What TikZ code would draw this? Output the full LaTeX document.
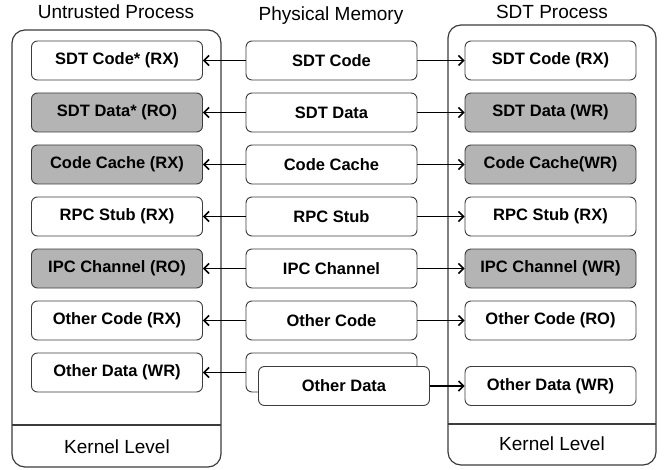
\documentclass[tikz,border=0pt]{standalone}
\usepackage{fontspec}
\setmainfont{Liberation Sans}
\usetikzlibrary{arrows.meta}
\definecolor{boxgray}{RGB}{180,180,180}
\definecolor{edgegray}{RGB}{60,60,60}
\begin{document}
\begin{tikzpicture}[x=1pt,y=-1pt,
  outerbox/.style={draw=edgegray,line width=1.2pt,rounded corners=13pt},
  membox/.style={draw=edgegray,line width=0.9pt,rounded corners=6pt,fill=white,
    minimum width=171pt,minimum height=39pt,inner sep=0pt,
    font=\fontsize{16.5}{18}\selectfont\bfseries},
  graybox/.style={membox,fill=boxgray},
  title/.style={font=\fontsize{19}{22}\selectfont},
  link/.style={line width=1.8pt,-{Straight Barb[length=5pt,width=10pt,line width=1.5pt]}}]
\useasboundingbox (0,0) rectangle (668,470);
% outer boxes
\draw[outerbox] (12,30) rectangle (221,467);
\draw[edgegray,line width=1.2pt] (12,425) -- (221,425);
\draw[outerbox] (448,25) rectangle (656,465);
\draw[edgegray,line width=1.2pt] (448,424) -- (656,424);
\node[title] (kl) at (117,447) {Kernel Level};
\node[title] (kr) at (552,444) {Kernel Level};
% titles
\node[title] (tu) at (116,12) {Untrusted Process};
\node[title] (tp) at (331,16) {Physical Memory};
\node[title] (ts) at (552,12) {SDT Process};
% left column
\node[membox]  (l1) at (117,60.5)  {SDT Code* (RX)};
\node[graybox] (l2) at (117,112.5) {SDT Data* (RO)};
\node[graybox] (l3) at (117,164.5) {Code Cache (RX)};
\node[membox]  (l4) at (117,216.5) {RPC Stub (RX)};
\node[graybox] (l5) at (117,268.5) {IPC Channel (RO)};
\node[membox]  (l6) at (117,320.5) {Other Code (RX)};
\node[membox]  (l7) at (117,372.5) {Other Data (WR)};
% middle column
\node[membox] (m1) at (331.5,60.5)  {SDT Code};
\node[membox] (m2) at (331.5,112.5) {SDT Data};
\node[membox] (m3) at (331.5,164.5) {Code Cache};
\node[membox] (m4) at (331.5,216.5) {RPC Stub};
\node[membox] (m5) at (331.5,268.5) {IPC Channel};
\node[membox] (m6) at (331.5,320.5) {Other Code};
\node[membox] (m7) at (331.5,372.5) {};
\node[membox] (m8) at (344,386) {Other Data};
% right column
\node[membox]  (r1) at (550.5,60.5)  {SDT Code (RX)};
\node[graybox] (r2) at (550.5,112.5) {SDT Data (WR)};
\node[graybox] (r3) at (550.5,164.5) {Code Cache(WR)};
\node[membox]  (r4) at (550.5,216.5) {RPC Stub (RX)};
\node[graybox] (r5) at (550.5,268.5) {IPC Channel (WR)};
\node[membox]  (r6) at (550.5,320.5) {Other Code (RO)};
\node[membox]  (r7) at (550.5,386) {Other Data (WR)};
% arrows
\foreach \i in {1,...,7}{
  \draw[link] (m\i.west) -- (l\i.east);
}
\foreach \i in {1,...,6}{
  \draw[link] (m\i.east) -- (r\i.west);
}
\draw[link] (m8.east) -- (r7.west);
\end{tikzpicture}
\end{document}
